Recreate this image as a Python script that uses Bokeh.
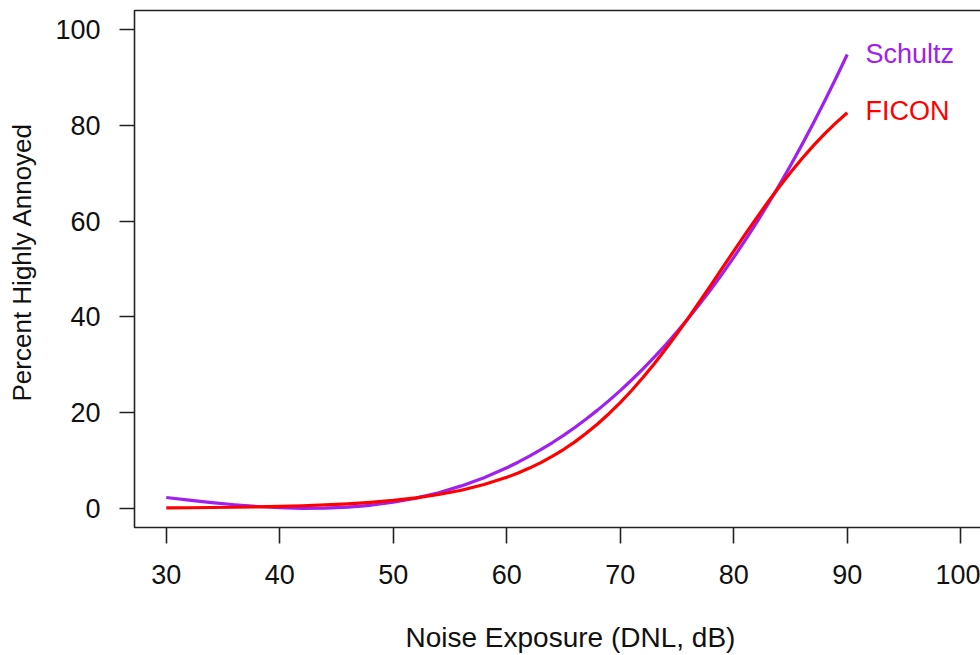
from bokeh.plotting import figure
from bokeh.models import Range1d, FixedTicker, BoxAnnotation, Label, ColumnDataSource
from bokeh.core.properties import value
from bokeh.embed import file_html
from bokeh.resources import INLINE

# Noise exposure levels (DNL, dB)
dnl = [30, 32, 34, 36, 38, 40, 42, 44, 46, 48, 50, 52, 54, 56, 58, 60,
       61, 62, 63, 64, 65, 66, 67, 68, 69, 70, 71, 72, 73, 74, 75,
       76, 77, 78, 79, 80, 81, 82, 83, 84, 85, 86, 87, 88, 89, 90]
# Percent highly annoyed
schultz = [2.26, 1.71, 1.19, 0.75, 0.39, 0.13, 0.01, 0.04, 0.24, 0.64, 1.27,
           2.13, 3.26, 4.69, 6.41, 8.48,
           9.64, 10.90, 12.25, 13.70, 15.25, 16.89, 18.66, 20.52, 22.50, 24.59,
           26.81, 29.13, 31.59, 34.16, 36.87, 39.70, 42.68, 45.78, 49.04, 52.42,
           55.96, 59.65, 63.48, 67.47, 71.62, 75.93, 80.39, 85.03, 89.83, 94.80]
ficon = [0.10, 0.13, 0.18, 0.23, 0.31, 0.41, 0.54, 0.72, 0.95, 1.26, 1.66,
         2.19, 2.89, 3.79, 4.97, 6.48,
         7.39, 8.41, 9.56, 10.85, 12.29, 13.89, 15.67, 17.62, 19.77, 22.10,
         24.62, 27.33, 30.22, 33.27, 36.47, 39.80, 43.22, 46.70, 50.23, 53.74,
         57.22, 60.64, 63.94, 67.13, 70.16, 73.03, 75.71, 78.21, 80.52, 82.64]

series_names = ["Schultz", "FICON"]
series_colors = ["#A020F0", "#FF0000"]
label_x = [91.6, 91.6]
label_y = [95.0, 83.1]

x_ticks = [30, 40, 50, 60, 70, 80, 90, 100]
y_ticks = [0, 20, 40, 60, 80, 100]
x_title = "Noise Exposure (DNL, dB)"
y_title = "Percent Highly Annoyed"

# plot box in data units (R style 4% extension of 30-100 and 0-100)
BOX_L, BOX_R, BOX_B, BOX_T = 27.2, 102.8, -4.0, 104.0

FONT = "Liberation Sans"
FS = "27px"
INK = "#222222"

# the frame covers the whole canvas; axes sit on the box edges
p = figure(width=980, height=655, min_border=0,
           x_range=Range1d(15.394, 101.74), y_range=Range1d(-30.739, 106.089),
           output_backend="svg", toolbar_location=None, tools="")

p.background_fill_color = "white"
p.border_fill_color = "white"
p.outline_line_color = None
p.grid.visible = False

for ax in (p.xaxis[0], p.yaxis[0]):
    ax.axis_line_color = None
    ax.major_tick_line_color = INK
    ax.major_tick_line_width = 1.6
    ax.major_tick_in = 0
    ax.minor_tick_line_color = None
    ax.major_label_text_font = FONT
    ax.major_label_text_font_size = FS
    ax.major_label_text_color = "#111111"

p.xaxis[0].fixed_location = BOX_B
p.yaxis[0].fixed_location = BOX_L
p.xaxis[0].ticker = FixedTicker(ticks=x_ticks)
p.yaxis[0].ticker = FixedTicker(ticks=y_ticks)
p.xaxis[0].major_tick_out = 16
p.yaxis[0].major_tick_out = 15
p.xaxis[0].major_label_standoff = 22
p.yaxis[0].major_label_standoff = 19
p.yaxis[0].major_label_orientation = "horizontal"

# the box (its right edge lies beyond the visible area, as in the original)
p.add_layout(BoxAnnotation(left=BOX_L, right=BOX_R, bottom=BOX_B, top=BOX_T,
                           fill_color=None, fill_alpha=0, line_color=INK,
                           line_alpha=1.0, line_width=1.6))

src = ColumnDataSource(dict(x=dnl, s=schultz, f=ficon))
p.line("x", "s", source=src, line_color=series_colors[0], line_width=3.2,
       line_join="round")
p.line("x", "f", source=src, line_color=series_colors[1], line_width=3.2,
       line_join="round")

for name, col, lx, ly in zip(series_names, series_colors, label_x, label_y):
    p.text(x=[lx], y=[ly], text=[name], text_color=col,
           text_font=value(FONT), text_font_size=FS,
           text_align="left", text_baseline="middle")

p.add_layout(Label(x=65.61, y=-26.98, text=x_title, text_font=FONT,
                   text_font_size="28px", text_color="#111111",
                   text_align="center", text_baseline="alphabetic"))
p.add_layout(Label(x=17.33, y=51.46, text=y_title, text_font=FONT,
                   text_font_size="26px", text_color="#111111",
                   text_align="center", text_baseline="alphabetic",
                   angle=1.5707963))

open("out.html", "w").write(file_html(p, INLINE))
